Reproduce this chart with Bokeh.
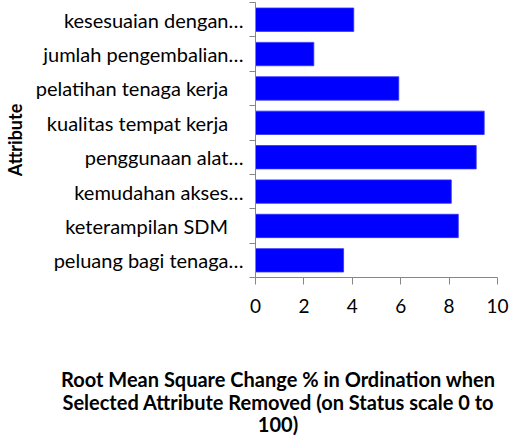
from bokeh.plotting import figure
from bokeh.models import FixedTicker, Range1d, Div
from bokeh.layouts import column
from bokeh.embed import file_html
from bokeh.resources import INLINE

NB = "\u00a0"
attributes = [
    "peluang bagi tenaga…",
    "keterampilan SDM" + NB * 3,
    "kemudahan akses…",
    "penggunaan alat…",
    "kualitas tempat kerja" + NB * 3,
    "pelatihan tenaga kerja" + NB * 3,
    "jumlah pengembalian…",
    "kesesuaian dengan…",
]
rms_change = [3.64, 8.38, 8.09, 9.12, 9.45, 5.92, 2.41, 4.06]
x_ticks = [0, 2, 4, 6, 8, 10]
x_title_lines = [
    "Root Mean Square Change % in Ordination when",
    "Selected Attribute Removed (on Status scale 0 to",
    "100)",
]

FONT = "Lato"
centers = [i + 0.5 for i in range(len(attributes))]
bounds = [i for i in range(len(attributes) + 1)]

p = figure(frame_width=242, frame_height=275, width=503, height=360,
           output_backend="svg", toolbar_location=None,
           x_range=Range1d(0, 10), y_range=Range1d(0, len(attributes)),
           min_border_left=248, min_border_top=2, min_border_right=13, min_border_bottom=83)
p.hbar(y=centers, right=rms_change, left=0, height=0.68,
       fill_color="#0000ff", line_color="#3030ff", line_width=0.8)

p.outline_line_color = None
p.xgrid.visible = False
p.ygrid.visible = False
p.background_fill_color = "white"
p.border_fill_color = "white"

xa = p.xaxis[0]
xa.ticker = FixedTicker(ticks=x_ticks, minor_ticks=[])
xa.axis_line_color = "#868686"
xa.major_tick_line_color = "#868686"
xa.major_tick_out = 7
xa.major_tick_in = 0
xa.minor_tick_out = 0
xa.minor_tick_in = 0
xa.major_label_text_font = FONT
xa.major_label_text_font_size = "19px"
xa.major_label_text_color = "black"
xa.major_label_standoff = 14

ya = p.yaxis[0]
ya.ticker = FixedTicker(ticks=centers, minor_ticks=bounds)
ya.major_label_overrides = {c: a for c, a in zip(centers, attributes)}
ya.axis_line_color = "#868686"
ya.major_tick_out = 0
ya.major_tick_in = 0
ya.minor_tick_line_color = "#868686"
ya.minor_tick_out = 6
ya.minor_tick_in = 0
ya.major_label_text_font = FONT
ya.major_label_text_font_size = "20px"
ya.major_label_text_color = "black"
ya.major_label_standoff = 6
ya.axis_label = "Attribute"
ya.axis_label_text_font = FONT
ya.axis_label_text_font_style = "bold"
ya.axis_label_text_font_size = "18px"
ya.axis_label_text_color = "black"
ya.axis_label_standoff = 7

title_html = "<br>".join(x_title_lines)
div = Div(text=title_html, width=446, height=72,
          styles={"margin-left": "55px", "text-align": "center",
                  "font-family": FONT, "font-weight": "bold",
                  "font-size": "20px", "line-height": "22.5px", "color": "black",
                  "padding-top": "3px"})

layout = column(p, div, spacing=0)
open("out.html", "w").write(file_html(layout, INLINE))
